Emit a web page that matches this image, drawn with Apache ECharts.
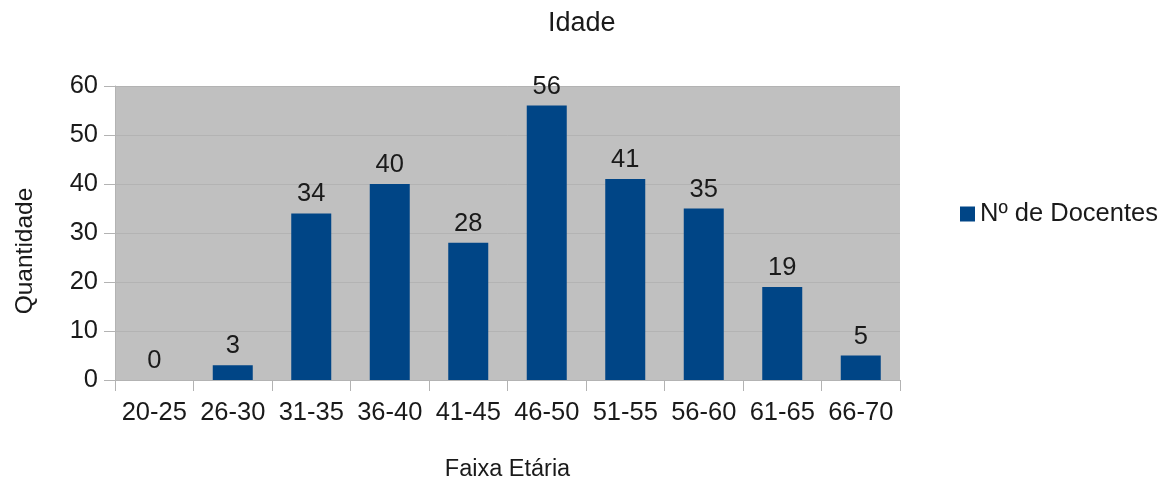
<!DOCTYPE html>
<html>
<head>
<meta charset="utf-8">
<script src="https://cdn.jsdelivr.net/npm/echarts@6/dist/echarts.min.js"></script>
<style>
  html, body { margin: 0; padding: 0; background: #fff; }
  #chart { width: 1175px; height: 479px; }
</style>
</head>
<body>
<div id="chart"></div>
<script>
const categories = ['20-25', '26-30', '31-35', '36-40', '41-45', '46-50', '51-55', '56-60', '61-65', '66-70']
const docentes = [0, 3, 34, 40, 28, 56, 41, 35, 19, 5]
const yTicks = { min: 0, max: 60, interval: 10 }

const font = 'Liberation Sans, Arial, sans-serif'
const textColor = '#1a1a1a'

const chart = echarts.init(document.getElementById('chart'), null, { renderer: 'canvas' })
chart.setOption({
  animation: false,
  textStyle: { fontFamily: font },
  title: {
    text: 'Idade',
    left: 543,
    top: 5,
    textStyle: { fontSize: 27, fontWeight: 'normal', color: textColor, fontFamily: font }
  },
  legend: {
    data: ['Nº de Docentes'],
    orient: 'vertical',
    left: 955,
    top: 196,
    icon: 'rect',
    itemWidth: 15,
    itemHeight: 15,
    itemGap: 8,
    textStyle: { fontSize: 25.5, color: textColor, fontFamily: font }
  },
  grid: {
    left: 115,
    right: 275,
    top: 86,
    bottom: 99,
    outerBoundsMode: 'none',
    containLabel: false,
    show: true,
    backgroundColor: '#c0c0c0',
    borderWidth: 0
  },
  xAxis: {
    type: 'category',
    data: categories,
    name: 'Faixa Etária',
    nameLocation: 'middle',
    nameGap: 78,
    nameTextStyle: { fontSize: 23.5, color: textColor, fontFamily: font },
    axisLine: { show: true, lineStyle: { color: '#b3b3b3', width: 1 } },
    axisTick: { show: true, length: 11, lineStyle: { color: '#b3b3b3' } },
    axisLabel: { interval: 0, fontSize: 25.5, color: textColor, margin: 20, fontFamily: font }
  },
  yAxis: {
    type: 'value',
    min: yTicks.min,
    max: yTicks.max,
    interval: yTicks.interval,
    name: 'Quantidade',
    nameLocation: 'middle',
    nameGap: 77,
    nameTextStyle: { fontSize: 24.5, color: textColor, fontFamily: font, padding: [0, 36, 0, 0] },
    axisLine: { show: true, lineStyle: { color: '#b3b3b3', width: 1 } },
    axisTick: { show: true, length: 11, lineStyle: { color: '#b3b3b3' } },
    axisLabel: { fontSize: 25.5, color: textColor, margin: 17, fontFamily: font },
    splitLine: { show: true, lineStyle: { color: '#b3b3b3', width: 1 } }
  },
  series: [{
    name: 'Nº de Docentes',
    type: 'bar',
    data: docentes,
    barWidth: 40,
    itemStyle: { color: '#004586' },
    label: {
      show: true,
      position: 'top',
      distance: 6,
      fontSize: 25.5,
      color: textColor,
      fontFamily: font
    }
  }]
})
</script>
</body>
</html>
